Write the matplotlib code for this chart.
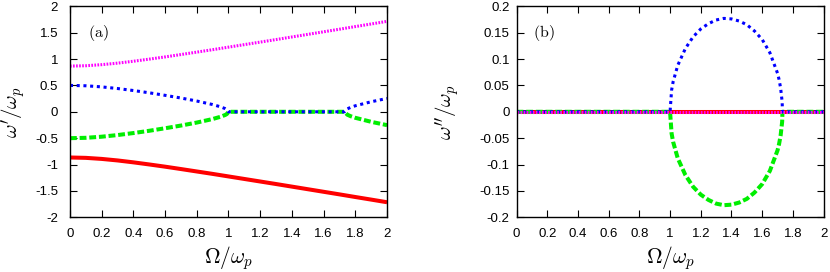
import matplotlib
matplotlib.use("Agg")
import matplotlib.pyplot as plt

plt.rcParams['font.family'] = ['Liberation Sans', 'DejaVu Sans']
plt.rcParams['mathtext.fontset'] = 'cm'
plt.rcParams['axes.unicode_minus'] = False

omega_outer = [0.0, 0.1, 0.2, 0.3, 0.4, 0.5, 0.6, 0.7, 0.8, 0.9, 1.0,
               1.1, 1.2, 1.3, 1.4, 1.5, 1.6, 1.7, 1.8, 1.9, 2.0]
magenta_real = [0.866, 0.873, 0.893, 0.922, 0.958, 0.998, 1.040, 1.085, 1.131, 1.177, 1.225,
                1.273, 1.321, 1.369, 1.418, 1.467, 1.516, 1.565, 1.615, 1.664, 1.714]
red_real = [-0.866, -0.873, -0.893, -0.922, -0.958, -0.998, -1.040, -1.085, -1.131, -1.177, -1.225,
            -1.273, -1.321, -1.369, -1.418, -1.467, -1.516, -1.565, -1.615, -1.664, -1.714]

# inner branches (real part)
omega_inner = [0.0, 0.1, 0.2, 0.3, 0.4, 0.5, 0.6, 0.7, 0.8, 0.9, 0.95, 0.98, 0.99, 1.0,
               1.1, 1.2, 1.3, 1.4, 1.5, 1.6, 1.7, 1.732, 1.75, 1.77, 1.8, 1.9, 2.0]
blue_real = [0.500, 0.493, 0.472, 0.441, 0.403, 0.360, 0.312, 0.261, 0.204, 0.137, 0.094, 0.059, 0.041, 0.0,
             0.0, 0.0, 0.0, 0.0, 0.0, 0.0, 0.0, 0.0, 0.056, 0.083, 0.114, 0.190, 0.253]
green_real = [-0.500, -0.493, -0.472, -0.441, -0.403, -0.360, -0.312, -0.261, -0.204, -0.137, -0.094, -0.059, -0.041, 0.0,
              0.0, 0.0, 0.0, 0.0, 0.0, 0.0, 0.0, 0.0, -0.056, -0.083, -0.114, -0.190, -0.253]

# imaginary parts
omega_imag = [0.0, 1.0, 1.01, 1.02, 1.05, 1.1, 1.15, 1.2, 1.25, 1.3, 1.35, 1.4, 1.45,
              1.5, 1.55, 1.6, 1.65, 1.7, 1.71, 1.72, 1.73, 1.732, 2.0]
blue_imag = [0.0, 0.0, 0.041, 0.057, 0.088, 0.120, 0.142, 0.157, 0.167, 0.174, 0.177, 0.176, 0.172,
             0.165, 0.153, 0.137, 0.112, 0.073, 0.061, 0.045, 0.019, 0.0, 0.0]
green_imag = [0.0, 0.0, -0.041, -0.057, -0.088, -0.120, -0.142, -0.157, -0.167, -0.174, -0.177, -0.176, -0.172,
              -0.165, -0.153, -0.137, -0.112, -0.073, -0.061, -0.045, -0.019, 0.0, 0.0]
omega_flat = [0.0, 2.0]
red_imag = [0.0, 0.0]
magenta_imag = [0.0, 0.0]

x_ticks = [0, 0.2, 0.4, 0.6, 0.8, 1.0, 1.2, 1.4, 1.6, 1.8, 2.0]
x_labels = ['0', '0.2', '0.4', '0.6', '0.8', '1', '1.2', '1.4', '1.6', '1.8', '2']
ya_ticks = [-2, -1.5, -1, -0.5, 0, 0.5, 1, 1.5, 2]
ya_labels = ['-2', '-1.5', '-1', '-0.5', '0', '0.5', '1', '1.5', '2']
yb_ticks = [-0.2, -0.15, -0.1, -0.05, 0, 0.05, 0.1, 0.15, 0.2]
yb_labels = ['-0.2', '-0.15', '-0.1', '-0.05', '0', '0.05', '0.1', '0.15', '0.2']

RED, GREEN, BLUE, MAGENTA = '#ff0000', '#00ee00', '#0000ff', '#ff00ff'

fig = plt.figure(figsize=(8.3, 2.72), dpi=100)
ax_a = fig.add_axes([0.0843, 0.201, 0.382, 0.776])
ax_b = fig.add_axes([0.6223, 0.201, 0.370, 0.776])


def draw(ax, xr, yr, xg, yg, xb, yb, xm, ym):
    ax.plot(xr, yr, color=RED, lw=2.9, solid_capstyle='butt')
    ax.plot(xg, yg, color=GREEN, lw=2.9, dashes=(1.7, 0.7), dash_capstyle='butt')
    ax.plot(xb, yb, color=BLUE, lw=2.2, dashes=(1.0, 1.2), dash_capstyle='butt')
    ax.plot(xm, ym, color=MAGENTA, lw=2.2, dashes=(0.55, 0.45), dash_capstyle='butt')


draw(ax_a, omega_outer, red_real, omega_inner, green_real,
     omega_inner, blue_real, omega_outer, magenta_real)
draw(ax_b, omega_flat, red_imag, omega_imag, green_imag,
     omega_imag, blue_imag, omega_flat, magenta_imag)

for ax, yt, yl, lim, pad in [(ax_a, ya_ticks, ya_labels, 2, 8.5),
                              (ax_b, yb_ticks, yb_labels, 0.2, 5)]:
    ax.set_xlim(0, 2)
    ax.set_ylim(-lim, lim)
    ax.set_xticks(x_ticks)
    ax.set_xticklabels(x_labels)
    ax.set_yticks(yt)
    ax.set_yticklabels(yl)
    ax.tick_params(direction='in', length=5, width=0.8, top=True, right=True,
                   labelsize=9.5, colors='black')
    ax.tick_params(axis='x', pad=8)
    ax.tick_params(axis='y', pad=pad)
    for sp in ax.spines.values():
        sp.set_linewidth(1.0)
    ax.set_xlabel(r'$\Omega/\omega_p$', fontsize=15.5, va='top')
    ax.xaxis.set_label_coords(0.5, -0.125)

ax_a.set_ylabel(r"$\omega'/\omega_p$", fontsize=15)
ax_a.yaxis.set_label_coords(-0.132, 0.5)
ax_b.set_ylabel(r"$\omega''/\omega_p$", fontsize=15)
ax_b.yaxis.set_label_coords(-0.178, 0.5)

ax_a.text(0.057, 0.873, r'$\mathrm{(a)}$', transform=ax_a.transAxes,
          fontsize=11.5, ha='left', va='center')
ax_b.text(0.055, 0.873, r'$\mathrm{(b)}$', transform=ax_b.transAxes,
          fontsize=11.5, ha='left', va='center')

fig.savefig('out.png', dpi=100)
